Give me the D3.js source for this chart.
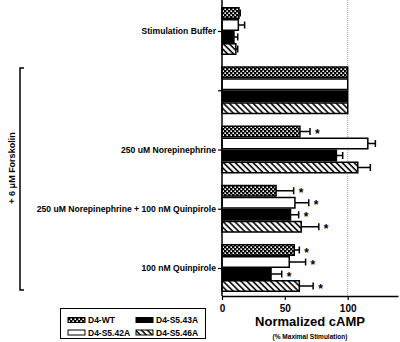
<!DOCTYPE html>
<html>
<head>
<meta charset="utf-8">
<script src="https://cdn.jsdelivr.net/npm/d3@7"></script>
<style>
  html, body { margin: 0; padding: 0; background: #fff; }
  svg { display: block; font-family: "Liberation Sans", Arial, sans-serif; font-weight: bold; }
</style>
</head>
<body>
<svg id="chart" width="400" height="342"></svg>
<script>
// categories (top to bottom) and series
const groups = ['Stimulation Buffer', '', '250 uM Norepinephrine', '250 uM Norepinephrine + 100 nM Quinpirole', '100 nM Quinpirole'];
const series = ['D4-WT', 'D4-S5.42A', 'D4-S5.43A', 'D4-S5.46A'];

// mean values per group, one array per series
const wt     = [13.5, 100, 62, 43, 57.5];
const s542a  = [13, 100, 116, 58, 53.5];
const s543a  = [9.5, 100, 91, 54.5, 39];
const s546a  = [11, 100, 108, 63, 61.5];

// error (SEM) per group
const wtErr    = [1, 0, 8, 14, 4];
const s542aErr = [5, 0, 6, 11, 13];
const s543aErr = [3, 0, 5, 6.5, 8.5];
const s546aErr = [1.5, 0, 10, 14, 11];

// significance flags
const wtSig    = [false, false, true, true, true];
const s542aSig = [false, false, false, true, true];
const s543aSig = [false, false, false, true, true];
const s546aSig = [false, false, false, true, true];

const xTicks = [0, 50, 100];

const values = [wt, s542a, s543a, s546a];
const errors = [wtErr, s542aErr, s543aErr, s546aErr];
const sigs = [wtSig, s542aSig, s543aSig, s546aSig];

const rows = [];
groups.forEach((g, gi) => {
  series.forEach((s, si) => {
    rows.push({ group: g, series: s, value: values[si][gi], err: errors[si][gi], sig: sigs[si][gi] });
  });
});

const svg = d3.select('#chart');
const axisY = 296;

const x = d3.scaleLinear().domain([0, 140]).range([222, 398]);
const y = d3.scalePoint().domain(groups).range([31, 268]);
const sub = d3.scaleBand().domain(series).range([-24, 24]);

// patterns
const defs = svg.append('defs');
const dots = defs.append('pattern').attr('id', 'pat-wt').attr('patternUnits', 'userSpaceOnUse')
  .attr('width', 4).attr('height', 4);
dots.append('rect').attr('width', 4).attr('height', 4).attr('fill', '#000');
dots.append('rect').attr('x', 0.4).attr('y', 0.4).attr('width', 1.6).attr('height', 1.6).attr('fill', '#fff');
dots.append('rect').attr('x', 2.4).attr('y', 2.4).attr('width', 1.6).attr('height', 1.6).attr('fill', '#fff');

const hatch = defs.append('pattern').attr('id', 'pat-hatch').attr('patternUnits', 'userSpaceOnUse')
  .attr('width', 4.2).attr('height', 4.2).attr('patternTransform', 'rotate(-45)');
hatch.append('rect').attr('width', 4.2).attr('height', 4.2).attr('fill', '#fff');
hatch.append('line').attr('x1', 1).attr('x2', 1).attr('y1', 0).attr('y2', 4.2)
  .attr('stroke', '#000').attr('stroke-width', 1.6);

const fills = {
  'D4-WT': 'url(#pat-wt)',
  'D4-S5.42A': '#fff',
  'D4-S5.43A': '#000',
  'D4-S5.46A': 'url(#pat-hatch)'
};

// reference line at 100
svg.append('line')
  .attr('x1', x(100)).attr('x2', x(100)).attr('y1', 0).attr('y2', axisY)
  .attr('stroke', '#999').attr('stroke-width', 1).attr('stroke-dasharray', '1 1');

// bars
const bh = sub.bandwidth();
svg.selectAll('rect.bar')
  .data(rows)
  .join('rect')
  .attr('class', 'bar')
  .attr('x', x(0))
  .attr('y', (d) => y(d.group) + sub(d.series) + 0.75)
  .attr('width', (d) => x(d.value) - x(0))
  .attr('height', bh - 1.5)
  .attr('fill', (d) => fills[d.series])
  .attr('stroke', '#000')
  .attr('stroke-width', 1.5);

// error bars
const withErr = rows.filter((d) => d.err > 0);
svg.selectAll('line.err')
  .data(withErr)
  .join('line')
  .attr('class', 'err')
  .attr('x1', (d) => x(d.value))
  .attr('x2', (d) => x(d.value + d.err))
  .attr('y1', (d) => y(d.group) + sub(d.series) + bh / 2)
  .attr('y2', (d) => y(d.group) + sub(d.series) + bh / 2)
  .attr('stroke', '#000').attr('stroke-width', 1.5);
svg.selectAll('line.cap')
  .data(withErr)
  .join('line')
  .attr('class', 'cap')
  .attr('x1', (d) => x(d.value + d.err))
  .attr('x2', (d) => x(d.value + d.err))
  .attr('y1', (d) => y(d.group) + sub(d.series) + bh / 2 - 3.5)
  .attr('y2', (d) => y(d.group) + sub(d.series) + bh / 2 + 3.5)
  .attr('stroke', '#000').attr('stroke-width', 1.5);

// significance stars
svg.selectAll('text.star')
  .data(rows.filter((d) => d.sig))
  .join('text')
  .attr('class', 'star')
  .attr('x', (d) => x(d.value + d.err) + 5)
  .attr('y', (d) => y(d.group) + sub(d.series) + bh / 2 + 6.5)
  .attr('font-size', 12)
  .text('*');

// y axis
svg.append('line')
  .attr('x1', x(0)).attr('x2', x(0)).attr('y1', 0).attr('y2', axisY)
  .attr('stroke', '#000').attr('stroke-width', 1.5);
const yAxis = svg.append('g')
  .attr('transform', `translate(${x(0)},0)`)
  .call(d3.axisLeft(y).tickSize(4).tickPadding(2));
yAxis.select('.domain').remove();
yAxis.selectAll('line').attr('stroke-width', 1.2);
yAxis.selectAll('text').attr('font-size', 8.6).attr('font-family', null).attr('fill', '#000');

// x axis
const xAxis = svg.append('g')
  .attr('transform', `translate(0,${axisY})`)
  .call(d3.axisBottom(x).tickValues(xTicks).tickSize(4).tickSizeOuter(0).tickPadding(5));
xAxis.select('.domain').attr('stroke-width', 1.5);
xAxis.selectAll('line').attr('stroke-width', 1.2);
xAxis.selectAll('text').attr('font-size', 10).attr('font-family', null).attr('fill', '#000');

svg.append('text')
  .attr('x', (x.range()[0] + x.range()[1]) / 2).attr('y', 326)
  .attr('text-anchor', 'middle').attr('font-size', 13)
  .text('Normalized cAMP');
svg.append('text')
  .attr('x', (x.range()[0] + x.range()[1]) / 2).attr('y', 339)
  .attr('text-anchor', 'middle').attr('font-size', 6.5)
  .text('(% Maximal Stimulation)');

// forskolin bracket
svg.append('path')
  .attr('d', 'M24,68 H20 V290 H24')
  .attr('fill', 'none').attr('stroke', '#000').attr('stroke-width', 1.5);
svg.append('text')
  .attr('transform', 'translate(15,168) rotate(-90)')
  .attr('text-anchor', 'middle').attr('font-size', 9)
  .text('+ 6 \u03bcM Forskolin');

// legend
const legend = svg.append('g');
legend.append('rect')
  .attr('x', 60.5).attr('y', 308.5).attr('width', 145).attr('height', 30)
  .attr('fill', '#fff').attr('stroke', '#000').attr('stroke-width', 1);
const legendPos = [
  { sx: 68, row: 0 }, { sx: 68, row: 1 }, { sx: 136, row: 0 }, { sx: 136, row: 1 }
];
series.forEach((s, i) => {
  const p = legendPos[i];
  const cy = 320 + p.row * 12.5;
  legend.append('rect')
    .attr('x', p.sx).attr('y', cy - 2.5).attr('width', 17).attr('height', 5)
    .attr('fill', fills[s]).attr('stroke', '#000').attr('stroke-width', 1);
  legend.append('text')
    .attr('x', p.sx + 20).attr('y', cy + 3)
    .attr('font-size', 8.5)
    .text(s);
});
</script>
</body>
</html>
